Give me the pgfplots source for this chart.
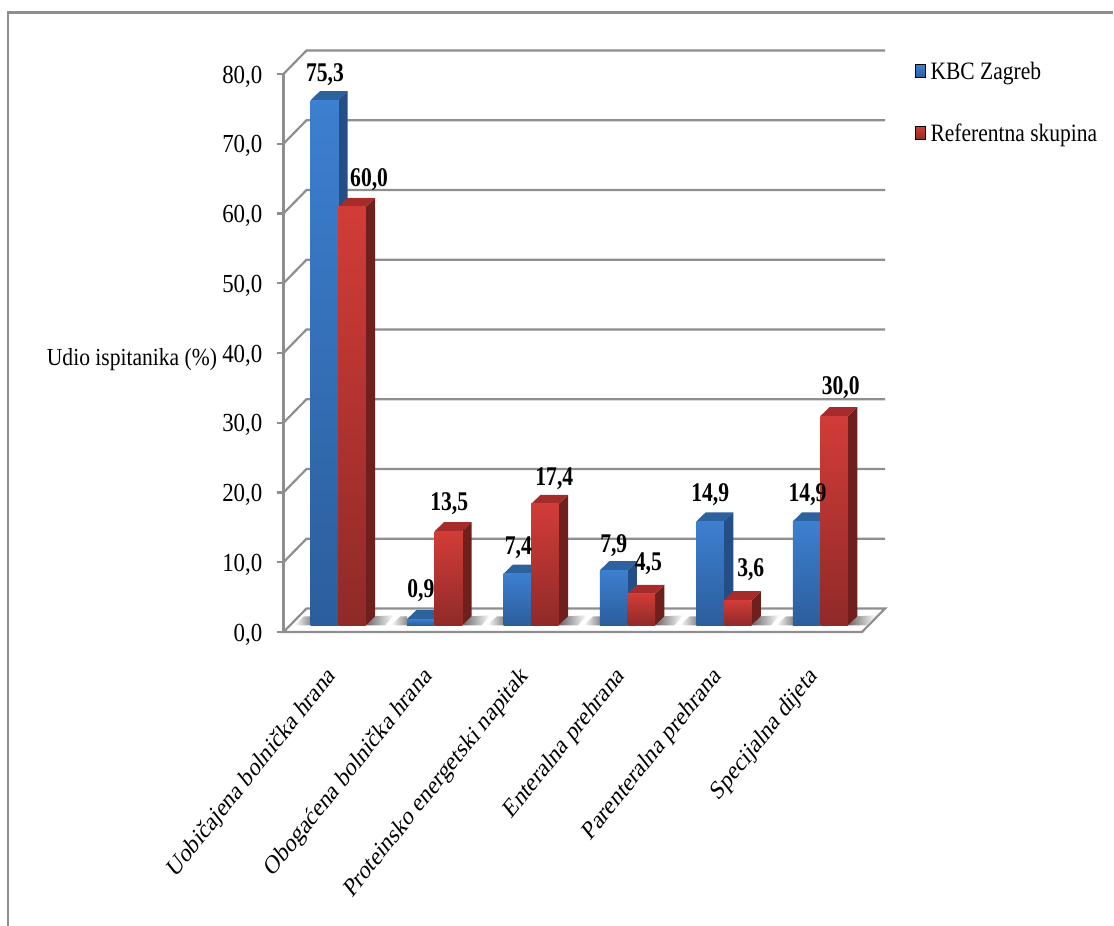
\documentclass[border=0pt]{standalone}
\usepackage{fontspec}
\setmainfont{Liberation Serif}
\usepackage{graphicx}
\usepackage{pgfplots}
\pgfplotsset{compat=1.18}

\definecolor{wallgray}{HTML}{8E8E8E}
\definecolor{floorgray}{HTML}{BDBDBD}
\definecolor{frontblTop}{HTML}{3D7FD0}
\definecolor{frontblBot}{HTML}{2B5E9C}
\definecolor{sidebl}{HTML}{234F86}
\definecolor{topbl}{HTML}{2C639F}
\definecolor{frontrdTop}{HTML}{D23C38}
\definecolor{frontrdBot}{HTML}{8F2A28}
\definecolor{siderd}{HTML}{6E1F1E}
\definecolor{toprd}{HTML}{A52C2A}

\newcommand\lab[1]{\scalebox{.88}[1]{#1}}
\newcommand\dlab[1]{\scalebox{.8}[1]{#1}}
\newcommand\xlab[1]{\scalebox{.8}[1]{\rotatebox{45}{#1}}}

% #1 category, #2 series 0/1, #3 value, #4 text, #5 #6 text shift in px, #7 bl/rd
\newcommand\threedbar[7]{%
  \pgfmathsetmacro\xl{#1-0.2179+#2*0.2863}
  \pgfmathsetmacro\xr{\xl+0.2863}
  \pgfmathsetmacro\xc{\xl+0.14315}
  \pgfmathsetmacro\yb{0.96}
  \pgfmathsetmacro\yt{#3+0.96}
  \pgfmathsetmacro\xd{\xr+0.0965}
  \pgfmathsetmacro\xe{\xl+0.0965}
  \pgfmathsetmacro\ybd{\yb+1.29}
  \pgfmathsetmacro\ytd{\yt+1.29}
  \addplot[forget plot,draw=none,fill=side#7] coordinates {(\xr,\yb) (\xd,\ybd) (\xd,\ytd) (\xr,\yt)} --cycle;
  \addplot[forget plot,draw=none,fill=top#7] coordinates {(\xl,\yt) (\xe,\ytd) (\xd,\ytd) (\xr,\yt)} --cycle;
  \addplot[forget plot,draw=none,top color=front#7Top,bottom color=front#7Bot] coordinates {(\xl,\yb) (\xl,\yt) (\xr,\yt) (\xr,\yb)} --cycle;
  \addplot[forget plot,draw=none,mark=none,nodes near coords={\dlab{#4}},
    every node near coord/.style={anchor=center,inner sep=0pt,xshift=#5pt,yshift=#6pt-3pt,
      font=\fontsize{27}{30}\selectfont\bfseries,text=black}]
    coordinates {(\xc,\yt)};
}

% soft floor shadow either side of a pair of bars
\newcommand\floorshadow[1]{%
  \pgfmathsetmacro\sl{#1-0.2179}
  \pgfmathsetmacro\sr{\sl+0.5726}
  \addplot[forget plot,draw=none,left color=black!60,right color=white] coordinates
    {(\sr,0.96) (\sr+0.2,0.96) (\sr+0.29,2.4) (\sr+0.0965,2.25)} --cycle;
  \addplot[forget plot,draw=none,left color=white,right color=black!45] coordinates
    {(\sl-0.17,0.96) (\sl,0.96) (\sl,2.25) (\sl-0.07,2.25)} --cycle;
}

\begin{document}
\begin{tikzpicture}[x=1pt,y=1pt]
\path[use as bounding box] (0,0) rectangle (1114,926);
\draw[color=wallgray,line width=2.4pt] (8,0) -- (8,913.5) -- (1113,913.5);
\begin{axis}[
  at={(283.5pt,294pt)},anchor=south west,
  scale only axis,width=578.5pt,height=558pt,
  xmin=-0.5,xmax=5.5,ymin=0,ymax=80,
  clip=false,
  axis x line*=bottom,axis y line*=left,
  x axis line style={-,color=floorgray,line width=2.8pt},
  y axis line style={-,color=wallgray,line width=2.2pt},
  xtick={0,1,2,3,4,5},
  xticklabels={\xlab{Uobičajena bolnička hrana},\xlab{Obogaćena bolnička hrana},\xlab{Proteinsko energetski napitak},\xlab{Enteralna prehrana},\xlab{Parenteralna prehrana},\xlab{Specijalna dijeta}},
  xtick style={draw=none},
  xticklabel style={anchor=north east,inner sep=0pt,yshift=-25pt,xshift=8pt,font=\fontsize{26.5}{30}\selectfont},
  ytick={0,10,...,80},
  ytick style={color=wallgray,line width=2.2pt},
  tick align=outside,
  major tick length=7pt,
  yticklabel={\lab{\pgfmathprintnumber{\tick}}},
  yticklabel style={inner sep=0pt,xshift=-14pt,yshift=-2.5pt,font=\fontsize{26}{30}\selectfont,
    /pgf/number format/.cd,fixed,fixed zerofill,precision=1,use comma,assume math mode=true},
  every axis y label/.style={at={(-0.262,0.488)},anchor=center,font=\fontsize{24.5}{28}\selectfont},
  ylabel={\lab{Udio ispitanika (\%)}},
  legend style={at={(1.0,1.0)},anchor=north west,xshift=53pt,yshift=14pt,
    draw=none,fill=none,inner sep=0pt,row sep=39pt,font=\fontsize{25}{28}\selectfont},
  legend cell align=left,
]
% back wall lines
\pgfplotsinvokeforeach{10,20,...,80}{
  \addplot[forget plot,color=wallgray,line width=2.2pt] coordinates {(-0.5,#1) (-0.2614,#1+3.37) (5.7386,#1+3.37)};
}
% floor
\addplot[forget plot,fill=white,draw=wallgray,line width=2.2pt] coordinates {(-0.5,0) (-0.2614,3.37) (5.7386,3.37) (5.5,0)} --cycle;
\floorshadow{0}\floorshadow{1}\floorshadow{2}\floorshadow{3}\floorshadow{4}\floorshadow{5}

\threedbar{0}{0}{75.3}{75,3}{0.5}{28}{bl}
\threedbar{0}{1}{60.0}{60,0}{17}{30}{rd}
\threedbar{1}{0}{0.9}{0,9}{0}{31}{bl}
\threedbar{1}{1}{13.5}{13,5}{0.7}{30}{rd}
\threedbar{2}{0}{7.4}{7,4}{1}{29}{bl}
\threedbar{2}{1}{17.4}{17,4}{9.4}{28}{rd}
\threedbar{3}{0}{7.9}{7,9}{0}{28}{bl}
\threedbar{3}{1}{4.5}{4,5}{7}{33}{rd}
\threedbar{4}{0}{14.9}{14,9}{0}{30}{bl}
\threedbar{4}{1}{3.6}{3,6}{13}{34}{rd}
\threedbar{5}{0}{14.9}{14,9}{1}{30}{bl}
\threedbar{5}{1}{30.0}{30,0}{6.5}{31}{rd}

\addlegendimage{legend image code/.code={\fill[top color=frontblTop,bottom color=frontblBot] (0pt,-6pt) rectangle (10pt,7pt);}}
\addlegendentry{\hspace{3pt}\scalebox{.86}[1]{KBC Zagreb}}
\addlegendimage{legend image code/.code={\fill[top color=frontrdTop,bottom color=frontrdBot] (0pt,-6pt) rectangle (10pt,7pt);}}
\addlegendentry{\hspace{3pt}\scalebox{.86}[1]{Referentna skupina}}
\end{axis}
\end{tikzpicture}
\end{document}
